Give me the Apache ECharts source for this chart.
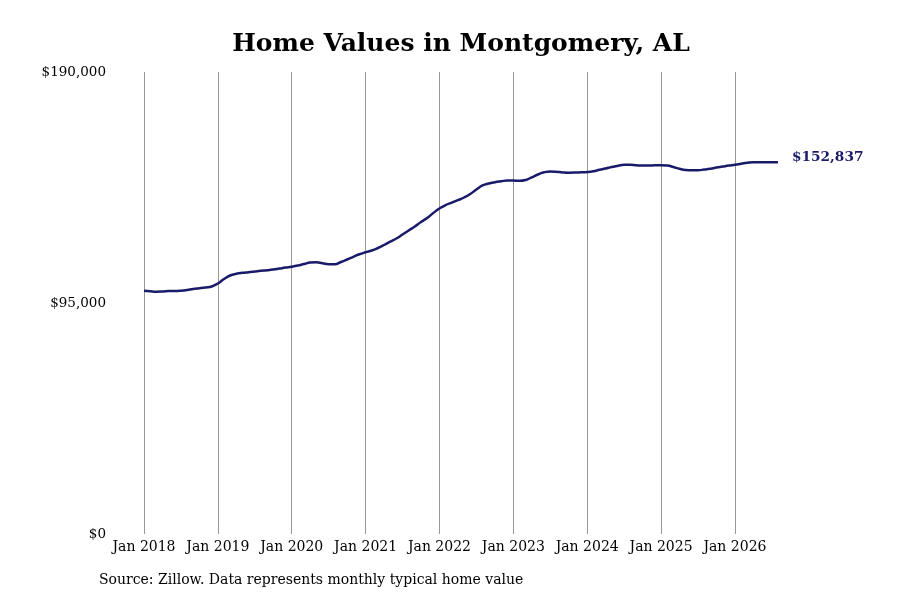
<!DOCTYPE html>
<html>
<head>
<meta charset="utf-8">
<title>Home Values in Montgomery, AL</title>
<script src="https://cdn.jsdelivr.net/npm/echarts@6/dist/echarts.min.js"></script>
<style>
    html, body { margin: 0; padding: 0; background: #fff; }
    #chart { width: 900px; height: 600px; }
</style>
</head>
<body>
<div id="chart"></div>
<script>
    'use strict';

    // monthly typical home value, Jan 2018 .. Aug 2026
    var years = ['2018', '2019', '2020', '2021', '2022', '2023', '2024', '2025', '2026'];
    var monthNames = ['Jan', 'Feb', 'Mar', 'Apr', 'May', 'Jun', 'Jul', 'Aug', 'Sep', 'Oct', 'Nov', 'Dec'];

    var values2018 = [100060, 99810, 99650, 99730, 99940, 99940, 100060, 100350, 100760, 101050, 101380, 101790];
    var values2019 = [103020, 104870, 106310, 107010, 107420, 107670, 107960, 108240, 108450, 108740, 109150, 109560];
    var values2020 = [109930, 110420, 111040, 111620, 111740, 111370, 110960, 110960, 111860, 112890, 114000, 115030];
    var values2021 = [115850, 116590, 117620, 118850, 120210, 121530, 123170, 124820, 126470, 128320, 129960, 132020];
    var values2022 = [133870, 135300, 136250, 137280, 138390, 139830, 141680, 143330, 144150, 144680, 145050, 145380];
    var values2023 = [145380, 145260, 145590, 146700, 147850, 148750, 149080, 148960, 148710, 148590, 148630, 148750];
    var values2024 = [148880, 149210, 149780, 150320, 150930, 151430, 151840, 151840, 151630, 151510, 151510, 151630];
    var values2025 = [151630, 151550, 150930, 150190, 149700, 149580, 149620, 149860, 150190, 150690, 151100, 151510];
    var values2026 = [151840, 152250, 152660, 152870, 152860, 152850, 152840, 152837];

    var seriesValues = [].concat(values2018, values2019, values2020, values2021,
        values2022, values2023, values2024, values2025, values2026);

    var categories = [];
    years.forEach(function(y) {
        monthNames.forEach(function(m) {
            if (categories.length < seriesValues.length) categories.push(m + ' ' + y);
        });
    });

    var yMax = 190000;
    var yStep = 95000;

    var serif = 'DejaVu Serif';
    var isJan = function(index) { return index % 12 === 0; };

    var money = function(v) {
        return '$' + Math.round(v).toString().replace(/\B(?=(\d{3})+(?!\d))/g, ',');
    };

    var chart = echarts.init(document.getElementById('chart'), null, { renderer: 'canvas' });

    chart.setOption({
        backgroundColor: '#ffffff',
        animation: false,
        title: {
            text: 'Home Values in Montgomery, AL',
            left: 456,
            top: 27,
            textAlign: 'center',
            textStyle: { fontFamily: serif, fontWeight: 'bold', fontSize: 25, color: '#000' }
        },
        graphic: [{
            type: 'text',
            left: 99,
            top: 573,
            style: {
                text: 'Source: Zillow. Data represents monthly typical home value',
                font: '14px "DejaVu Serif"',
                fill: '#000'
            }
        }],
        grid: { left: 144, right: 122, top: 72, bottom: 66 },
        xAxis: {
            type: 'category',
            data: categories,
            boundaryGap: false,
            axisLine: { show: false },
            axisTick: { show: false },
            axisLabel: {
                interval: isJan,
                margin: 6,
                fontFamily: serif,
                fontSize: 14,
                color: '#000'
            },
            splitLine: {
                show: true,
                interval: isJan,
                lineStyle: { color: '#999', width: 1 }
            }
        },
        yAxis: {
            type: 'value',
            min: 0,
            max: yMax,
            interval: yStep,
            axisLine: { show: false },
            axisTick: { show: false },
            splitLine: { show: false },
            axisLabel: {
                margin: 38,
                fontFamily: serif,
                fontSize: 13.5,
                color: '#000',
                formatter: money
            }
        },
        series: [{
            type: 'line',
            data: seriesValues,
            smooth: true,
            showSymbol: false,
            lineStyle: { color: '#1a1a6b', width: 2.5 },
            endLabel: {
                show: true,
                distance: 14,
                offset: [0, -5],
                fontFamily: serif,
                fontWeight: 'bold',
                fontSize: 13.7,
                color: '#1a1a6b',
                formatter: function(p) { return money(p.value); }
            }
        }]
    });
</script>
</body>
</html>
